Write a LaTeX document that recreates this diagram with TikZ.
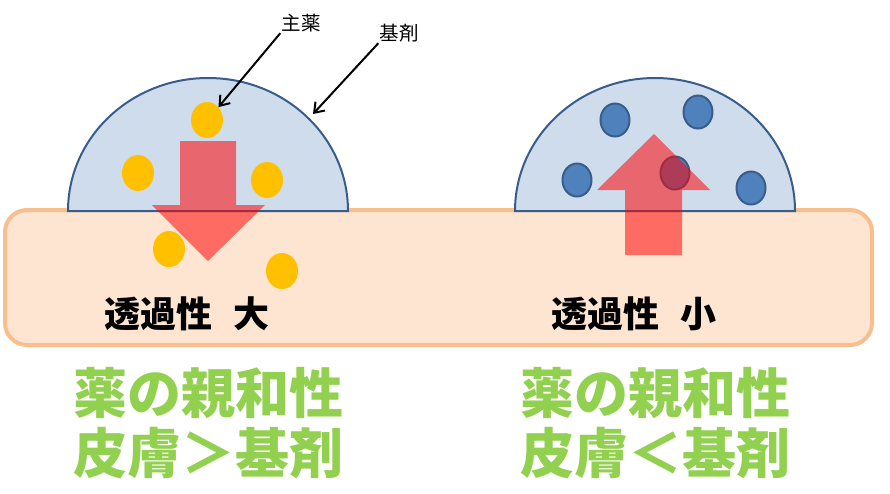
\documentclass[tikz,border=0pt]{standalone}
\usepackage{fontspec}
\newfontfamily\jp{Noto Sans CJK JP}
\usetikzlibrary{shapes.geometric,arrows.meta}
\definecolor{skinfill}{HTML}{FDE5D2}
\definecolor{skinline}{HTML}{F9BE8E}
\definecolor{basefill}{HTML}{CFDCEC}
\definecolor{baseblue}{HTML}{385D8A}
\definecolor{drug}{HTML}{FFC000}
\definecolor{drugblue}{HTML}{4F81BD}
\definecolor{affgreen}{HTML}{92D050}
\begin{document}
\begin{tikzpicture}[x=1pt,y=-1pt]
  \tikzstyle{yellowdot}=[ellipse,fill=drug,minimum width=32pt,minimum height=36pt,inner sep=0pt]
  \tikzstyle{bluedot}=[ellipse,fill=drugblue,draw=baseblue,line width=2pt,minimum width=29pt,minimum height=33pt,inner sep=0pt]
  \tikzstyle{flow}=[fill=red,fill opacity=0.53]
  \tikzstyle{label}=[font=\jp\fontsize{19.5}{20}\selectfont,inner sep=1pt]
  \tikzstyle{pointer}=[-{Straight Barb[length=9pt,width=13pt]},line width=2pt]
  \tikzstyle{rate}=[font=\jp\bfseries\fontsize{36}{36}\selectfont,inner sep=0pt]
  \tikzstyle{affinity}=[font=\jp\bfseries\fontsize{54}{54}\selectfont,text=affgreen,inner sep=0pt]
  \useasboundingbox (0,0) rectangle (890,493);

  % skin
  \draw[skinline,fill=skinfill,line width=4pt,rounded corners=22] (5,210) rectangle (872,345);

  % ointment bases
  \draw[baseblue,fill=basefill,line width=2pt] (68,211) arc[start angle=180,end angle=360,x radius=140,y radius=133] -- cycle;
  \draw[baseblue,fill=basefill,line width=2pt] (515,211) arc[start angle=180,end angle=360,x radius=140,y radius=133] -- cycle;
  \coordinate (edge) at (313,114);

  % drug particles
  \node[yellowdot] (d1) at (207,120){};
  \node[yellowdot] (d2) at (138,173){};
  \node[yellowdot] (d3) at (267,180){};
  \node[yellowdot] (d4) at (169,249){};
  \node[yellowdot] (d5) at (282,271){};

  \node[bluedot] (b1) at (615,120){};
  \node[bluedot] (b2) at (698,112){};
  \node[bluedot] (b3) at (577,180){};
  \node[bluedot] (b4) at (675,173){};
  \node[bluedot] (b5) at (751,188){};

  % arrows
  \fill[flow] (180,141) -- (236,141) -- (236,205) -- (265,205) -- (208,261) -- (152,205) -- (180,205) -- cycle;
  \fill[flow] (625,255) -- (682,255) -- (682,190) -- (710,190) -- (654,134) -- (597,190) -- (625,190) -- cycle;

  % labels
  \node[label] (drug) at (301,23){主薬};
  \node[label] (base) at (399,33){基剤};
  \draw[pointer] (drug.south west) -- (d1.north east);
  \draw[pointer] (base.south west) -- (edge);

  \node[rate] (high) at (187,314){透過性\hspace{0.6em}大};
  \node[rate] (low) at (634,314){透過性\hspace{0.6em}小};

  \node[affinity] (aff1) at (208,393){薬の親和性};
  \node[affinity] (cmp1) at (208,453){皮膚＞基剤};
  \node[affinity] (aff2) at (655,393){薬の親和性};
  \node[affinity] (cmp2) at (655,453){皮膚＜基剤};
\end{tikzpicture}
\end{document}
